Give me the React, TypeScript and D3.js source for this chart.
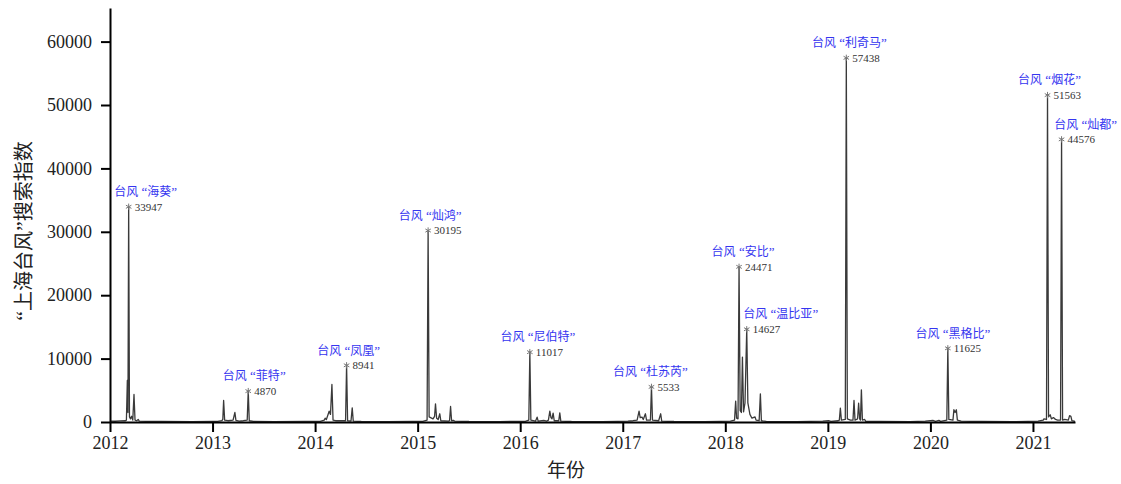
import React, { useEffect, useRef } from "react"
import * as d3 from "d3"

// year position on the axis, search index
const series: [number, number][] = [
  [2012.0, 150], [2012.05, 120], [2012.1, 180], [2012.15, 200], [2012.16, 300], [2012.169, 6560], [2012.175, 1500],
  [2012.182, 33947], [2012.19, 800], [2012.2, 500], [2012.21, 900], [2012.222, 300], [2012.234, 4340], [2012.244, 300],
  [2012.26, 200], [2012.275, 400], [2012.285, 150], [2012.35, 100], [2012.5, 80], [2012.8, 60], [2013.0, 80],
  [2013.05, 100], [2013.09, 200], [2013.1, 400], [2013.108, 3400], [2013.118, 300], [2013.15, 200], [2013.2, 300],
  [2013.218, 1500], [2013.228, 250], [2013.26, 150], [2013.3, 200], [2013.338, 300], [2013.348, 4870], [2013.358, 200],
  [2013.4, 100], [2013.6, 60], [2013.9, 80],
  [2014.05, 100], [2014.09, 300], [2014.098, 600], [2014.11, 400], [2014.137, 1700], [2014.15, 1200], [2014.164, 5920],
  [2014.175, 300], [2014.2, 200], [2014.297, 200], [2014.307, 8941], [2014.317, 200], [2014.35, 150], [2014.362, 2240],
  [2014.372, 150], [2014.45, 80], [2014.7, 60], [2014.95, 100],
  [2015.05, 100], [2015.092, 300], [2015.102, 30195], [2015.112, 800], [2015.15, 500], [2015.165, 900], [2015.174, 2870],
  [2015.185, 600], [2015.2, 400], [2015.216, 1300], [2015.226, 200], [2015.3, 150], [2015.311, 200], [2015.321, 2450],
  [2015.331, 200], [2015.35, 250], [2015.36, 150], [2015.5, 80], [2015.8, 60], [2015.95, 100],
  [2016.05, 100], [2016.084, 300], [2016.094, 11017], [2016.104, 300], [2016.15, 150], [2016.165, 760], [2016.175, 150],
  [2016.23, 250], [2016.26, 150], [2016.275, 300], [2016.289, 1700], [2016.3, 700], [2016.31, 500], [2016.321, 1400],
  [2016.332, 200], [2016.376, 200], [2016.386, 1450], [2016.396, 150], [2016.5, 80], [2016.8, 60], [2016.95, 100],
  [2017.05, 150], [2017.1, 200], [2017.14, 300], [2017.159, 1700], [2017.17, 700], [2017.188, 760], [2017.2, 400],
  [2017.221, 1300], [2017.232, 300], [2017.27, 300], [2017.28, 5533], [2017.29, 300], [2017.35, 200], [2017.37, 1300],
  [2017.38, 150], [2017.5, 80], [2017.8, 60], [2017.95, 100],
  [2018.05, 150], [2018.09, 300], [2018.101, 3290], [2018.11, 600], [2018.124, 500], [2018.134, 24471], [2018.145, 1800],
  [2018.157, 1500], [2018.167, 10240], [2018.178, 1600], [2018.192, 3000], [2018.209, 14627], [2018.22, 3000],
  [2018.24, 1200], [2018.26, 600], [2018.29, 800], [2018.3, 300], [2018.33, 200], [2018.342, 4450], [2018.352, 200],
  [2018.4, 100], [2018.7, 60], [2018.95, 150],
  [2019.007, 200], [2019.03, 100], [2019.1, 200], [2019.112, 300], [2019.122, 2180], [2019.132, 300], [2019.17, 400],
  [2019.18, 57438], [2019.19, 500], [2019.22, 300], [2019.245, 300], [2019.255, 3400], [2019.265, 300], [2019.28, 400],
  [2019.29, 500], [2019.3, 2970], [2019.31, 500], [2019.318, 300], [2019.327, 5080], [2019.337, 300], [2019.359, 400],
  [2019.37, 100], [2019.5, 80], [2019.8, 60], [2019.95, 150],
  [2020.024, 250], [2020.05, 100], [2020.083, 250], [2020.1, 100], [2020.16, 300], [2020.17, 11625], [2020.18, 400],
  [2020.22, 300], [2020.229, 1930], [2020.241, 1500], [2020.253, 1930], [2020.263, 300], [2020.3, 150], [2020.5, 80],
  [2020.8, 60], [2020.95, 100],
  [2021.05, 150], [2021.1, 300], [2021.107, 500], [2021.132, 400], [2021.142, 51563], [2021.152, 800], [2021.168, 1140],
  [2021.18, 500], [2021.2, 700], [2021.22, 400], [2021.24, 300], [2021.269, 300], [2021.279, 44576], [2021.289, 300],
  [2021.31, 400], [2021.345, 300], [2021.357, 1000], [2021.37, 900], [2021.38, 200], [2021.41, 100],
]

const typhoons = ["海葵", "菲特", "凤凰", "灿鸿", "尼伯特", "杜苏芮", "安比", "温比亚", "利奇马", "黑格比", "烟花", "灿都"]
const peakYears = [2012.182, 2013.348, 2014.307, 2015.102, 2016.094, 2017.28, 2018.134, 2018.209, 2019.18, 2020.17, 2021.142, 2021.279]
const peakValues = [33947, 4870, 8941, 30195, 11017, 5533, 24471, 14627, 57438, 11625, 51563, 44576]
// horizontal nudge of each blue label, px
const labelShift = [17, 6, 2, 2, 8, -1, 4, 34, 3, 5, 2, 24]

const yearTicks = [2012, 2013, 2014, 2015, 2016, 2017, 2018, 2019, 2020, 2021]
const valueTicks = [0, 10000, 20000, 30000, 40000, 50000, 60000]

const serif = "'Liberation Serif', 'Times New Roman', serif"
const cjk = "'Noto Sans CJK SC', sans-serif"

export default function App() {
  const ref = useRef<SVGSVGElement>(null)

  useEffect(() => {
    const svg = d3.select(ref.current)
    svg.selectAll("*").remove()

    const x = d3.scaleLinear().domain([2012, 2021.41]).range([110, 1075])
    const y = d3.scaleLinear().domain([0, 65300]).range([422, 8])

    const line = d3.line<[number, number]>()
      .x(d => x(d[0]))
      .y(d => y(d[1]))

    svg.append("path")
      .datum(series)
      .attr("fill", "none")
      .attr("stroke", "#3a3a3a")
      .attr("stroke-width", 1.3)
      .attr("stroke-linejoin", "round")
      .attr("d", line)

    const xAxis = svg.append("g")
      .attr("transform", "translate(0, 422)")
      .call(d3.axisBottom(x).tickValues(yearTicks).tickFormat(d3.format("d")).tickSize(10).tickSizeOuter(0).tickPadding(4))
    xAxis.select(".domain").attr("stroke-width", 2)
    xAxis.selectAll(".tick line").attr("stroke-width", 2)
    xAxis.selectAll("text").attr("font-family", serif).attr("font-size", 18).attr("fill", "#222")

    const yAxis = svg.append("g")
      .attr("transform", "translate(110, 0)")
      .call(d3.axisLeft(y).tickValues(valueTicks).tickFormat(d3.format("d")).tickSize(9).tickSizeOuter(0).tickPadding(9))
    yAxis.select(".domain").attr("stroke-width", 2)
    yAxis.selectAll(".tick line").attr("stroke-width", 2)
    yAxis.selectAll("text").attr("font-family", serif).attr("font-size", 18).attr("fill", "#222")

    const notes = svg.append("g")
      .selectAll("g")
      .data(typhoons.map((name, i) => ({ name, t: peakYears[i], v: peakValues[i], dx: labelShift[i] })))
      .enter()
      .append("g")
      .attr("transform", d => `translate(${x(d.t)}, ${y(d.v)})`)

    notes.append("path")
      .attr("d", d3.symbol(d3.symbolAsterisk, 28)())
      .attr("fill", "none")
      .attr("stroke", "#777")
      .attr("stroke-width", 1)

    notes.append("text")
      .attr("x", 6)
      .attr("dy", "0.35em")
      .attr("font-family", serif)
      .attr("font-size", 11)
      .attr("fill", "#333")
      .text(d => d.v)

    const label = notes.append("text")
      .attr("x", d => d.dx)
      .attr("y", -15)
      .attr("dy", "0.35em")
      .attr("text-anchor", "middle")
      .attr("font-family", cjk)
      .attr("font-size", 12)
      .attr("fill", "#3535f0")
    label.append("tspan").text("台风")
    label.append("tspan").attr("font-family", serif).attr("font-size", 13).text(" “")
    label.append("tspan").text(d => d.name)
    label.append("tspan").attr("font-family", serif).attr("font-size", 13).text("”")

    const title = svg.append("text")
      .attr("transform", "translate(24, 231) rotate(-90)")
      .attr("text-anchor", "middle")
      .attr("dy", "0.35em")
      .attr("font-family", cjk)
      .attr("font-size", 20)
      .attr("fill", "#222")
    title.append("tspan").attr("font-family", serif).attr("font-size", 22).text("“")
    title.append("tspan").text("上海台风")
    title.append("tspan").attr("font-family", serif).attr("font-size", 22).text("”")
    title.append("tspan").text("搜索指数")

    svg.append("text")
      .attr("x", 566)
      .attr("y", 470)
      .attr("text-anchor", "middle")
      .attr("dy", "0.35em")
      .attr("font-family", cjk)
      .attr("font-size", 19)
      .attr("fill", "#222")
      .text("年份")
  }, [])

  return (
    <svg ref={ref} width={1121} height={484} style={{ position: "absolute", left: 0, top: 0, background: "#fff" }} />
  )
}
